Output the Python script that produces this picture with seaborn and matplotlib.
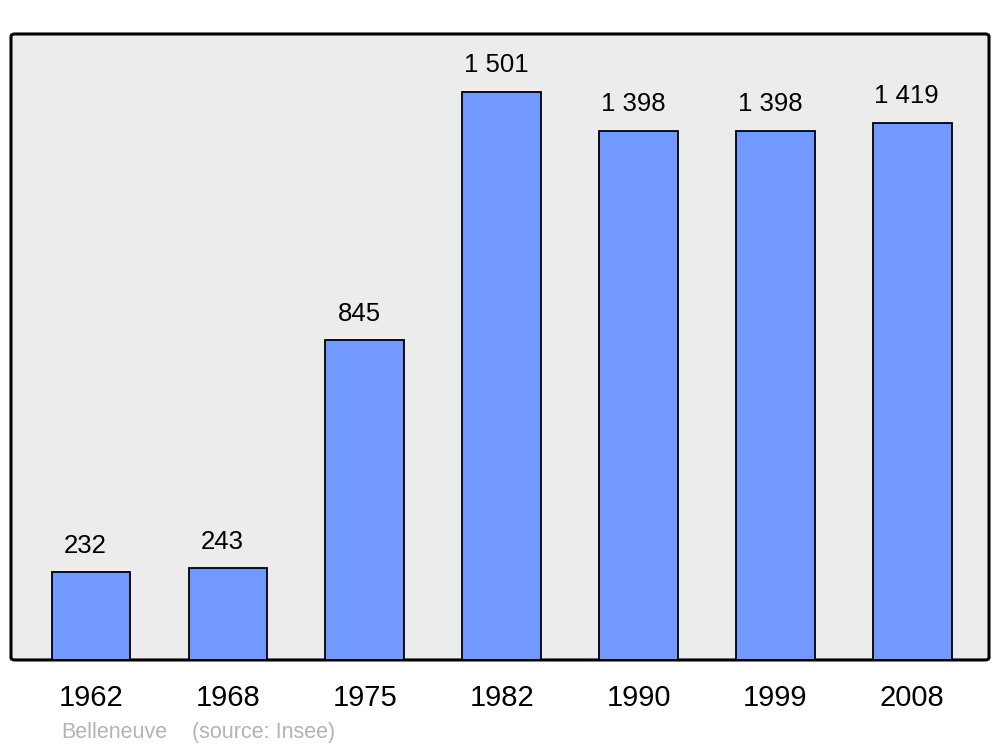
import seaborn as sns
import matplotlib.pyplot as plt
from matplotlib.patches import FancyBboxPatch

years = ["1962", "1968", "1975", "1982", "1990", "1999", "2008"]
population = [232, 243, 845, 1501, 1398, 1398, 1419]
value_labels = ["232", "243", "845", "1 501", "1 398", "1 398", "1 419"]

sns.set_style("white")
plt.rcParams['font.family'] = ['Liberation Sans', 'DejaVu Sans']
plt.rcParams['text.color'] = 'black'
plt.rcParams['xtick.color'] = 'black'

fig = plt.figure(figsize=(10, 7.47), dpi=100)
ax = fig.add_axes([0.011, 0.1165, 0.978, 0.838])

# rounded grey frame behind the bars
frame = FancyBboxPatch((0, 0), 1, 1, boxstyle="round,pad=0,rounding_size=0.004",
                       transform=ax.transAxes, facecolor="#ececec", edgecolor="black",
                       linewidth=2.2, clip_on=False, zorder=0)
ax.add_patch(frame)
ax.set_facecolor("none")

sns.barplot(x=years, y=population, color="#7299ff", saturation=1, width=0.575,
            edgecolor="black", linewidth=1.3, ax=ax, zorder=2)

for i, (v, lab) in enumerate(zip(population, value_labels)):
    ax.annotate(lab, (i, v), xytext=(-4, 14), textcoords="offset points",
                ha="center", va="baseline", fontsize=18.5, color="black")

ax.set_xlim(-0.585, 6.56)
ax.set_ylim(0, 1654)
ax.set_yticks([])
ax.set_xlabel("")
ax.set_ylabel("")
for s in ax.spines.values():
    s.set_visible(False)
ax.tick_params(axis="x", length=0, pad=17, labelsize=21, labelcolor="black")

fig.text(0.061, 0.012, "Belleneuve", color="#b3b3b3", fontsize=15.5)
fig.text(0.192, 0.012, "(source: Insee)", color="#b3b3b3", fontsize=15.5)

plt.savefig("out.png", dpi=100)
